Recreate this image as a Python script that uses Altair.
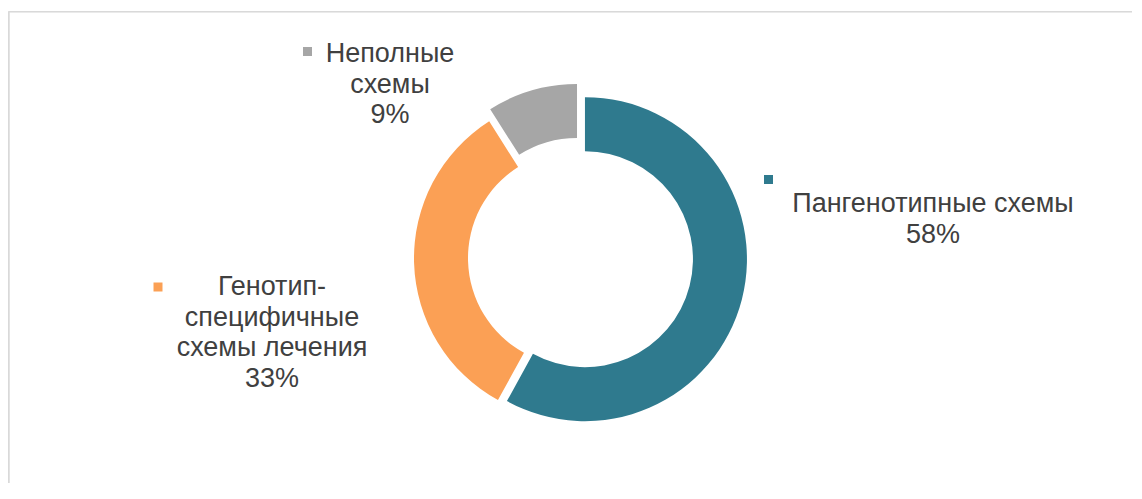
import math
import altair as alt
import pandas as pd

# ---------------- data ----------------
categories = ["Пангенотипные схемы", "Генотип-специфичные схемы лечения", "Неполные схемы"]
label_names = ["Пангенотипные схемы", "Генотип-\nспецифичные\nсхемы лечения", "Неполные\nсхемы"]
values = [58, 33, 9]
colors = ["#2F7A8E", "#FBA055", "#A6A6A6"]

# ---------------- layout / style ----------------
W, H = 1124, 472
CX, CY = 572.5, 247.0          # donut centre (view pixels)
R_OUT, R_IN = 162, 108
EXPLODE = [4.6, 4.5, 12.5]     # per-slice explosion (px)
LABEL_POS = [(925, 201), (264, 284), (382, 51)]     # centre x, first-line baseline
MARKER_POS = [(760.5, 168.5), (150, 276), (299.5, 40.5)]
FONT = "Liberation Sans"
TEXT_COLOR = "#404040"
FRAME = "#D9D9D9"

df = pd.DataFrame({
    "cat": categories,
    "value": values,
    "order": list(range(len(values))),
    "explode": EXPLODE,
})

lab = pd.DataFrame({
    "cat": categories,
    "name": label_names,
    "value": values,
    "lx": [p[0] for p in LABEL_POS],
    "ly": [p[1] for p in LABEL_POS],
    "mx": [p[0] for p in MARKER_POS],
    "my": [p[1] for p in MARKER_POS],
})

color_scale = alt.Scale(domain=categories, range=colors)

arcs = (
    alt.Chart(df)
    .transform_joinaggregate(total="sum(value)")
    .transform_window(cum="sum(value)", sort=[alt.SortField("order")], frame=[None, 0])
    .transform_calculate(mid="(datum.cum - datum.value/2) / datum.total * 2 * PI")
    .transform_calculate(
        cx=f"{CX} + datum.explode * sin(datum.mid)",
        cy=f"{CY} - datum.explode * cos(datum.mid)",
    )
    .mark_arc(outerRadius=R_OUT, innerRadius=R_IN, strokeWidth=0)
    .encode(
        theta=alt.Theta("value:Q", stack=True),
        order=alt.Order("order:Q"),
        color=alt.Color("cat:N", scale=color_scale, legend=None),
        x=alt.X("cx:Q", scale=None),
        y=alt.Y("cy:Q", scale=None),
    )
)

texts = (
    alt.Chart(lab)
    .transform_calculate(label="datum.name + '\\n' + datum.value + '%'")
    .mark_text(
        font=FONT, fontSize=27, color=TEXT_COLOR, align="center",
        baseline="alphabetic", lineBreak="\n", lineHeight=30.5,
    )
    .encode(
        x=alt.X("lx:Q", scale=None),
        y=alt.Y("ly:Q", scale=None),
        text="label:N",
    )
)

markers = (
    alt.Chart(lab)
    .mark_square(size=81, opacity=1)
    .encode(
        x=alt.X("mx:Q", scale=None),
        y=alt.Y("my:Q", scale=None),
        color=alt.Color("cat:N", scale=color_scale, legend=None),
    )
)

frame_top = alt.Chart(lab).mark_rule(color=FRAME, strokeWidth=1.3).encode(
    x=alt.value(0.7), x2=alt.value(W), y=alt.value(0.7)
)
frame_left = alt.Chart(lab).mark_rule(color=FRAME, strokeWidth=1.3).encode(
    x=alt.value(0.7), y=alt.value(0.7), y2=alt.value(H)
)

chart = (
    alt.layer(frame_top, frame_left, arcs, markers, texts)
    .properties(
        width=W, height=H,
        padding={"top": 3, "left": 0, "right": 0, "bottom": 0},
        autosize=alt.AutoSizeParams(type="none"),
        background="white",
    )
    .configure_view(stroke=None)
)

chart.save("out.html", embed_options={"renderer": "svg", "actions": False})
